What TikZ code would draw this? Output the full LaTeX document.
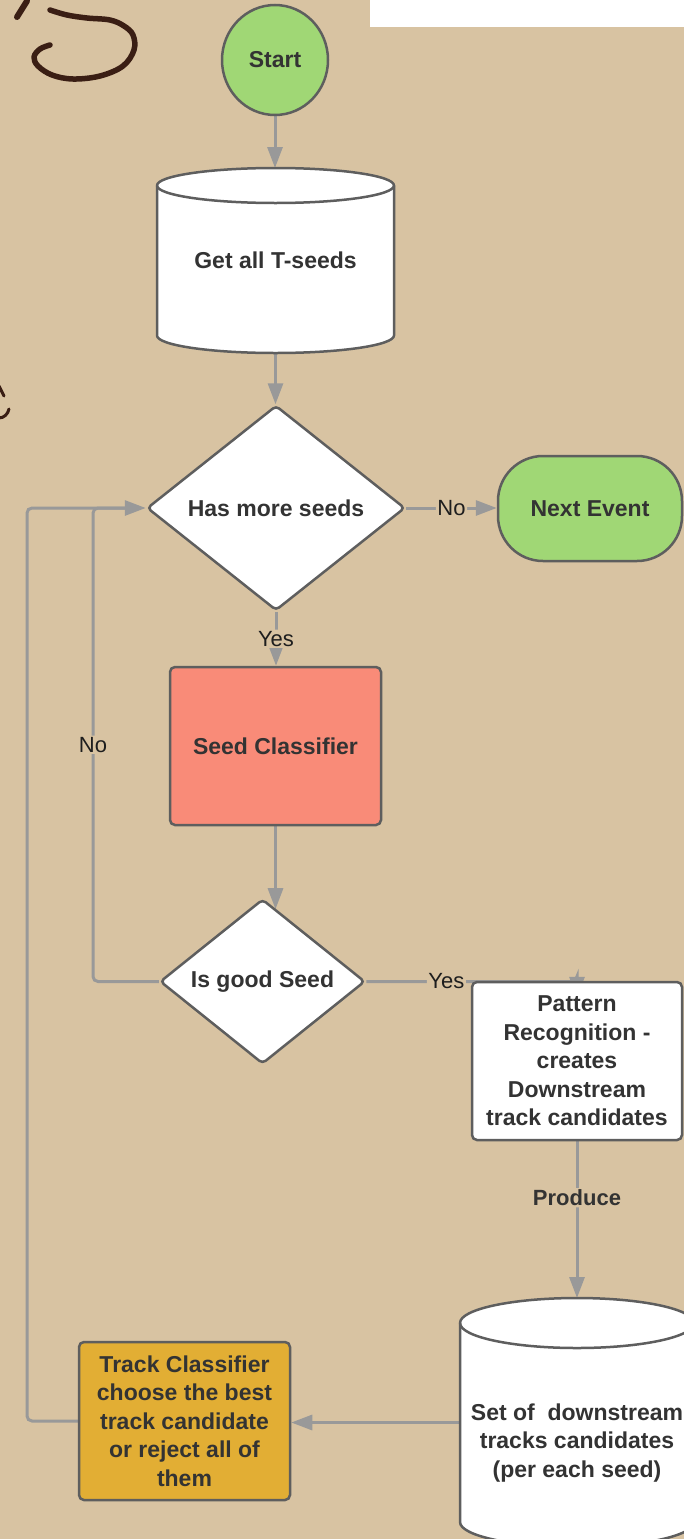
\documentclass[tikz,border=0pt]{standalone}
\usepackage{fontspec}
\setmainfont{Liberation Sans}
\usetikzlibrary{shapes.geometric,arrows.meta,calc}

\definecolor{paper}{HTML}{D8C3A2}
\definecolor{edgegray}{HTML}{999999}
\definecolor{bordergray}{HTML}{5E5E5E}
\definecolor{inkdark}{HTML}{333333}
\definecolor{labelink}{HTML}{1E1E1E}
\definecolor{leafgreen}{HTML}{A0D775}
\definecolor{salmon}{HTML}{F98B78}
\definecolor{gold}{HTML}{E2AE34}
\definecolor{penink}{HTML}{3A1E14}

\pgfdeclarelayer{paperlayer}
\pgfdeclarelayer{wires}
\pgfdeclarelayer{bodies}
\pgfsetlayers{paperlayer,wires,bodies,main}

% Drum (database) outline behind a rectangular node:
% #1 node name, #2 half width, #3 radius of the end caps
\newcommand\drumbody[3]{%
  \begin{pgfonlayer}{bodies}
    \path[draw=bordergray, line width=2.5pt, fill=white, line join=round]
      ([yshift=-#3pt]#1.north west) -- ([yshift=#3pt]#1.south west)
      arc[start angle=180, end angle=360, x radius=#2pt, y radius=#3pt]
      -- ([yshift=-#3pt]#1.north east)
      arc[start angle=0, end angle=180, x radius=#2pt, y radius=#3pt] -- cycle;
    \draw[bordergray, line width=2.5pt]
      ([yshift=-#3pt]#1.north west)
      arc[start angle=180, end angle=360, x radius=#2pt, y radius=#3pt];
  \end{pgfonlayer}}

\begin{document}
\begin{tikzpicture}[x=1pt,y=-1pt,
  box/.style={draw=bordergray, line width=2.5pt, text=inkdark, align=center,
    inner sep=0pt, font=\fontsize{23}{28.5}\selectfont\bfseries},
  rbox/.style={box, rectangle, rounded corners=5pt},
  drum/.style={box, draw=none, rectangle, outer sep=0pt},
  decision/.style={box, diamond, fill=white, rounded corners=4pt},
  wire/.style={draw=edgegray, line width=3pt, rounded corners=5pt},
  arr/.style={wire, -{Triangle[length=21pt,width=15pt]}},
  lbl/.style={fill=paper, text=labelink, inner sep=1.5pt,
    font=\fontsize{22}{26}\selectfont},
]
\useasboundingbox (0,0) rectangle (684,1539);

% paper, slide leftovers and handwriting
\begin{pgfonlayer}{paperlayer}
  \fill[paper] (0,0) rectangle (684,1539);
  \fill[white] (370,0) rectangle (684,27);
  \draw[penink, line width=6pt, line cap=round] (27,1) -- (17,17);
  \draw[penink, line width=5.5pt, line cap=round, line join=round]
    plot[smooth, tension=0.6] coordinates {(50,10) (67,15) (87,18) (110,20)
      (124,26) (133,35) (134,50) (123,66) (100,76) (73,79) (52,75) (38,66)
      (34,57) (40,49) (50,45)};
  \draw[penink, line width=3pt, line cap=round] (-1,386) -- (4,396);
  \draw[penink, line width=3pt, line cap=round]
    (-1,418) .. controls (4,418) and (8,414) .. (9,409);
\end{pgfonlayer}

% nodes
\node[box, ellipse, fill=leafgreen, minimum width=106, minimum height=110]
  (start) at (275,60) {Start};
\node[drum, minimum width=237, minimum height=185] (getall) at (275.5,260.5)
  {Get all T-seeds};
\drumbody{getall}{118.5}{17.5}
\node[decision, minimum width=258, minimum height=205] (hasmore) at (276,508)
  {Has more seeds};
\node[box, rectangle, rounded corners=45pt, fill=leafgreen, minimum width=184,
  minimum height=105] (nextev) at (590,508.5) {Next Event};
\node[rbox, fill=salmon, minimum width=211, minimum height=158] (seedcl)
  at (275.5,746) {Seed Classifier};
\node[decision, minimum width=205, minimum height=153] (isgood)
  at (262.5,981.5) {Is good Seed};
\node[rbox, fill=white, minimum width=210, minimum height=158] (pattern)
  at (577,1061) {Pattern\\Recognition -\\creates\\Downstream\\track candidates};
\node[drum, minimum width=234, minimum height=249] (setdrum) at (577,1422.5) {};
\drumbody{setdrum}{117}{25}
\node[box, draw=none] (settext) at (577,1443)
  {Set of\ \ downstream\\tracks candidates\\(per each seed)};
\node[rbox, fill=gold, minimum width=211, minimum height=158] (track)
  at (184.5,1421)
  {Track Classifier\\choose the best\\track candidate\\or reject all of\\them};

\coordinate (outerlane) at (27,0);
\coordinate (innerlane) at (93,0);

% connectors
\begin{pgfonlayer}{wires}
  \draw[arr] (start.south) -- (start.south |- getall.north);
  \draw[arr] (getall.south) -- (getall.south |- hasmore.north);
  \draw[arr] (hasmore.east) -- node[lbl]{No} (hasmore.east -| nextev.west);
  \draw[arr] (hasmore.south) -- node[lbl]{Yes} (hasmore.south |- seedcl.north);
  \draw[arr] (seedcl.south) -- (seedcl.south |- isgood.79);
  \draw[wire] (isgood.east) -| node[lbl, pos=0.19]{Yes} (pattern.north);
  \draw[arr] ([yshift=4pt]pattern.north) -- ([yshift=-17pt]pattern.north);
  \draw[arr] (pattern.south) --
    node[lbl, pos=0.36, text=inkdark, font=\fontsize{22}{26}\selectfont\bfseries]{Produce}
    (setdrum.north);
  \draw[arr] (setdrum.west) -- (setdrum.west -| track.east);
  \draw[arr] (track.west) -- (track.west -| outerlane)
    -- (outerlane |- hasmore.west) -- (hasmore.west);
  \draw[wire] (isgood.west) -- (isgood.west -| innerlane)
    -- node[lbl]{No} (innerlane |- hasmore.west) -- ([xshift=-20pt]hasmore.west);
\end{pgfonlayer}
\end{tikzpicture}
\end{document}
